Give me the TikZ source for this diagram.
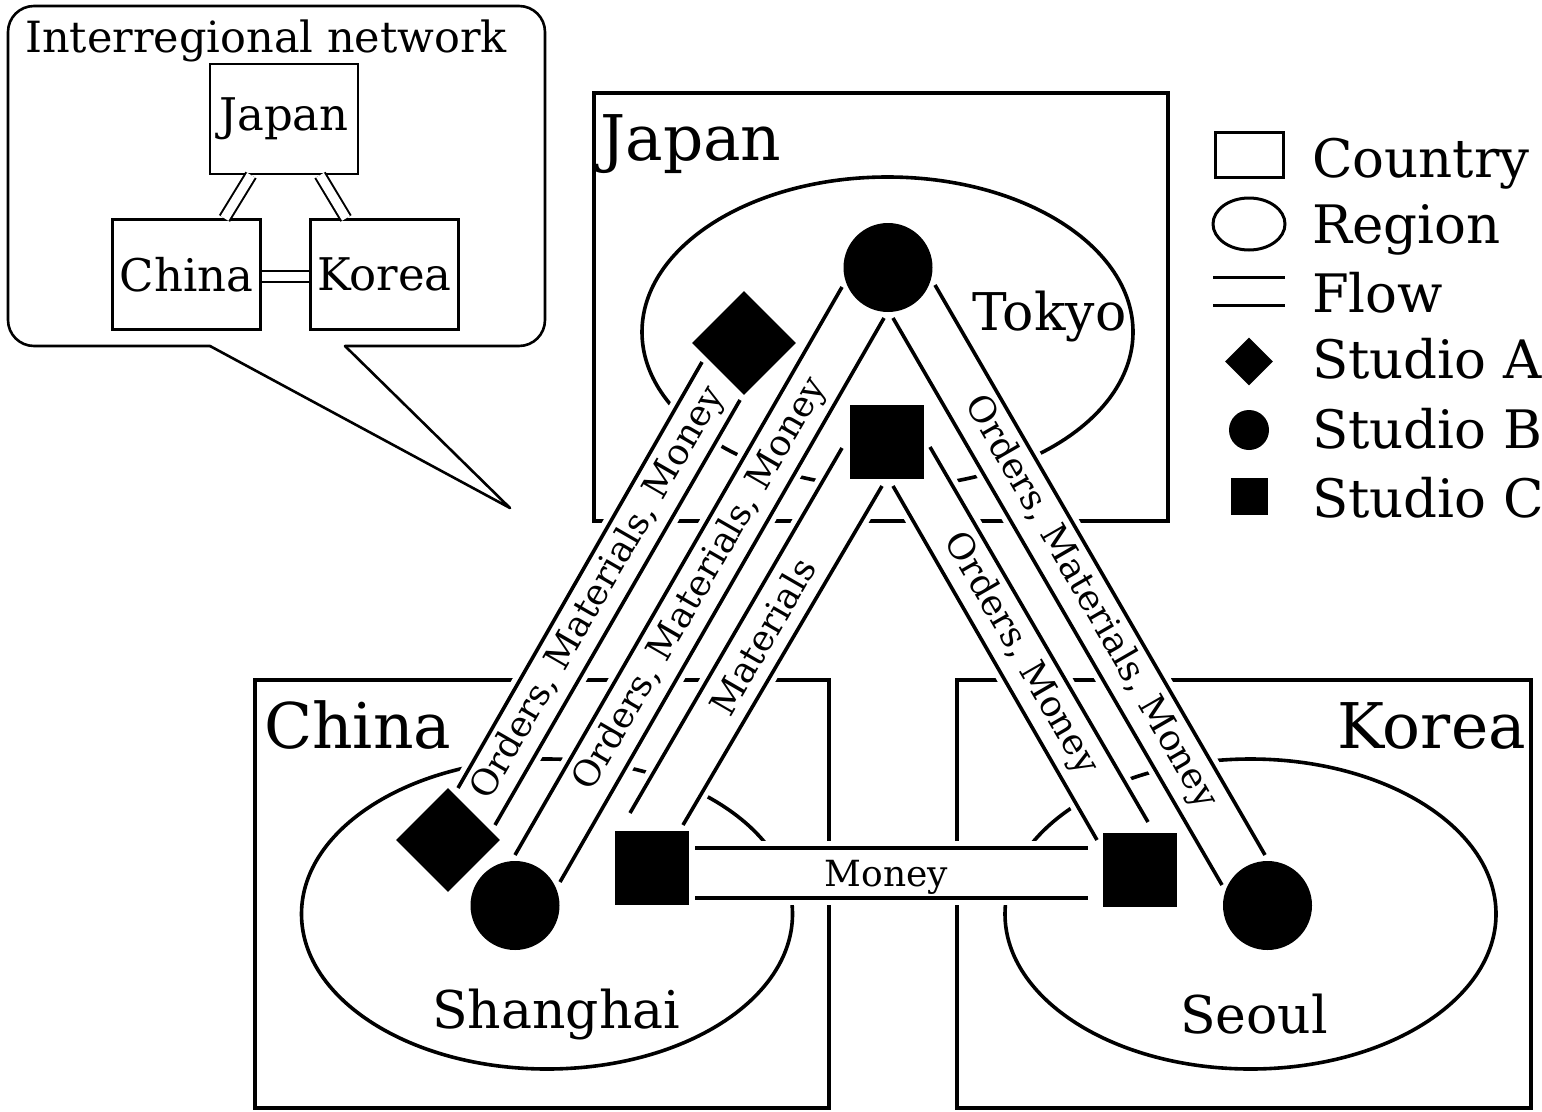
\documentclass[tikz,border=0pt]{standalone}
\usepackage{fontspec}
\setmainfont{DejaVu Serif}
\usetikzlibrary{shapes.geometric,calc}
\begin{document}
\begin{tikzpicture}[x=1pt,y=-1pt,
  country/.style={draw, line width=4, minimum width=574, minimum height=428, inner sep=0},
  region/.style={draw, ellipse, line width=3.6, minimum width=491, minimum height=310, inner sep=0},
  studioA/.style={diamond, fill=black, minimum width=104, minimum height=104, inner sep=0, aspect=1},
  studioB/.style={circle, fill=black, minimum size=89, inner sep=0},
  studioC/.style={rectangle, fill=black, minimum size=74, inner sep=0},
  halo/.style={fill=white, draw=white, line width=14, line join=round},
  flowline/.style={line width=3.6},
  bandtext/.style={font=\fontsize{36}{36}\selectfont, inner sep=0},
  ctrylabel/.style={font=\fontsize{63}{63}\selectfont, inner sep=0},
  reglabel/.style={font=\fontsize{52}{52}\selectfont, inner sep=0, anchor=base west},
  legtext/.style={font=\fontsize{53}{53}\selectfont, inner sep=0, anchor=base west},
  smallbox/.style={draw, line width=2.2, minimum width=148, minimum height=110, inner sep=0, font=\fontsize{45}{45}\selectfont},
  dblflow/.style={line width=2, double=white, double distance=9},
  callout/.style={line width=2.6, line cap=round, line join=round},
]
\useasboundingbox[fill=white] (0,0) rectangle (1542,1111);

% ---------- callout ----------
\coordinate (tip) at (510,508);
\draw[callout] (210,346) -- (tip) -- (345,346);
\draw[callout, rounded corners=26] (345,346) -- (545,346) -- (545,6) -- (8,6) -- (8,346) -- (210,346);
\node[font=\fontsize{43}{43}\selectfont, inner sep=0, anchor=base west] (ctitle) at (25,52) {Interregional network};
\node[smallbox] (iJ) at (284,119) {Japan};
\node[smallbox] (iC) at (186.5,274.5) {China};
\node[smallbox] (iK) at (384.5,274.5) {Korea};
\draw[dblflow] ($(iJ.south)+(-33,0)$) -- ($(iC.north)+(38,0)$);
\draw[dblflow] ($(iJ.south)+(36,0)$) -- ($(iK.north)+(-38.5,0)$);
\draw[dblflow] ($(iC.east)+(0,2)$) -- ($(iK.west)+(0,2)$);

% ---------- countries and regions ----------
\node[country] (jp) at (881,307) {};
\node[country] (cn) at (542,893.5) {};
\node[country] (kr) at (1244,893.5) {};
\node[region] (tokyo) at (887.5,332) {};
\node[region] (shanghai) at (547,914) {};
\node[region] (seoul) at (1250.5,914) {};

% ---------- band end points ----------
\coordinate (b1La) at (702,362);  \coordinate (b1Lb) at (458,788);
\coordinate (b1Ra) at (740,400);  \coordinate (b1Rb) at (495,825);
\coordinate (b2La) at (842,287);  \coordinate (b2Lb) at (515,855);
\coordinate (b2Ra) at (884,318);  \coordinate (b2Rb) at (560,882);
\coordinate (b3La) at (842,448);  \coordinate (b3Lb) at (630,813);
\coordinate (b3Ra) at (882,486);  \coordinate (b3Rb) at (683,825);
\coordinate (b4La) at (893,486);  \coordinate (b4Lb) at (1097,840);
\coordinate (b4Ra) at (930,447);  \coordinate (b4Rb) at (1148,822);
\coordinate (b5La) at (893,318);  \coordinate (b5Lb) at (1222,885);
\coordinate (b5Ra) at (935,285);  \coordinate (b5Rb) at (1265,855);
\coordinate (b6La) at (695,848);  \coordinate (b6Lb) at (1088,848);
\coordinate (b6Ra) at (695,898);  \coordinate (b6Rb) at (1088,898);

% halos
\foreach \b in {b1,b2,b3,b4,b5,b6}{
  \filldraw[halo] (\b La) -- (\b Lb) -- (\b Rb) -- (\b Ra) -- cycle;
}
% band lines
\foreach \b in {b1,b2,b3,b4,b5,b6}{
  \draw[flowline] (\b La) -- (\b Lb);
  \draw[flowline] (\b Ra) -- (\b Rb);
}

% ---------- studios ----------
\node[studioA] (JA) at (744,343) {};
\node[studioB] (JB) at (888,267.5) {};
\node[studioC] (JC) at (887,442) {};
\node[studioA] (CA) at (448,840) {};
\node[studioB] (CB) at (515,905.5) {};
\node[studioC] (CC) at (652,868) {};
\node[studioC] (KC) at (1140,870) {};
\node[studioB] (KB) at (1267.5,905.5) {};

% ---------- band labels ----------
\node[bandtext, rotate=60] (t1) at ($(b1La)!0.5!(b1Rb)$) {Orders, Materials, Money};
\node[bandtext, rotate=60] (t2) at ($(b2La)!0.5!(b2Rb)$) {Orders, Materials, Money};
\node[bandtext, rotate=60] (t3) at ($(b3La)!0.5!(b3Rb)$) {Materials};
\node[bandtext, rotate=-60] (t4) at ($(b4La)!0.5!(b4Rb)$) {Orders, Money};
\node[bandtext, rotate=-60] (t5) at ($(b5La)!0.53!(b5Rb)$) {Orders, Materials, Money};
\node[bandtext] (t6) at ($(b6La)!0.5!(b6Rb)+(-5,4)$) {Money};

% ---------- labels ----------
\node[ctrylabel, anchor=base west] (ljp) at (600,160) {Japan};
\node[ctrylabel, anchor=base west] (lcn) at (264,748) {China};
\node[ctrylabel, anchor=base east] (lkr) at (1526,748) {Korea};
\node[reglabel] (ltk) at (972,330) {Tokyo};
\node[reglabel] (lsh) at (432,1028) {Shanghai};
\node[reglabel] (lse) at (1180,1033) {Seoul};

% ---------- legend ----------
\node[draw, line width=3, minimum width=68, minimum height=45, inner sep=0] (legC) at (1249,154.5) {};
\node[draw, ellipse, line width=3, minimum width=72, minimum height=52, inner sep=0] (legR) at (1249,224) {};
\coordinate (lf1a) at (1213,277); \coordinate (lf1b) at (1285,277);
\coordinate (lf2a) at (1213,305); \coordinate (lf2b) at (1285,305);
\draw[line width=3] (lf1a) -- (lf1b);
\draw[line width=3] (lf2a) -- (lf2b);
\node[studioA, minimum width=48, minimum height=48] (legA) at (1249,361.5) {};
\node[studioB, minimum size=40] (legB) at (1249,430) {};
\node[studioC, minimum size=37] (legSC) at (1249.5,496.5) {};
\node[legtext] (tC) at (1312,177) {Country};
\node[legtext] (tR) at (1312,243) {Region};
\node[legtext] (tF) at (1312,312) {Flow};
\node[legtext] (tA) at (1312,378) {Studio A};
\node[legtext] (tB) at (1312,448) {Studio B};
\node[legtext] (tSC) at (1312,517) {Studio C};
\end{tikzpicture}
\end{document}
